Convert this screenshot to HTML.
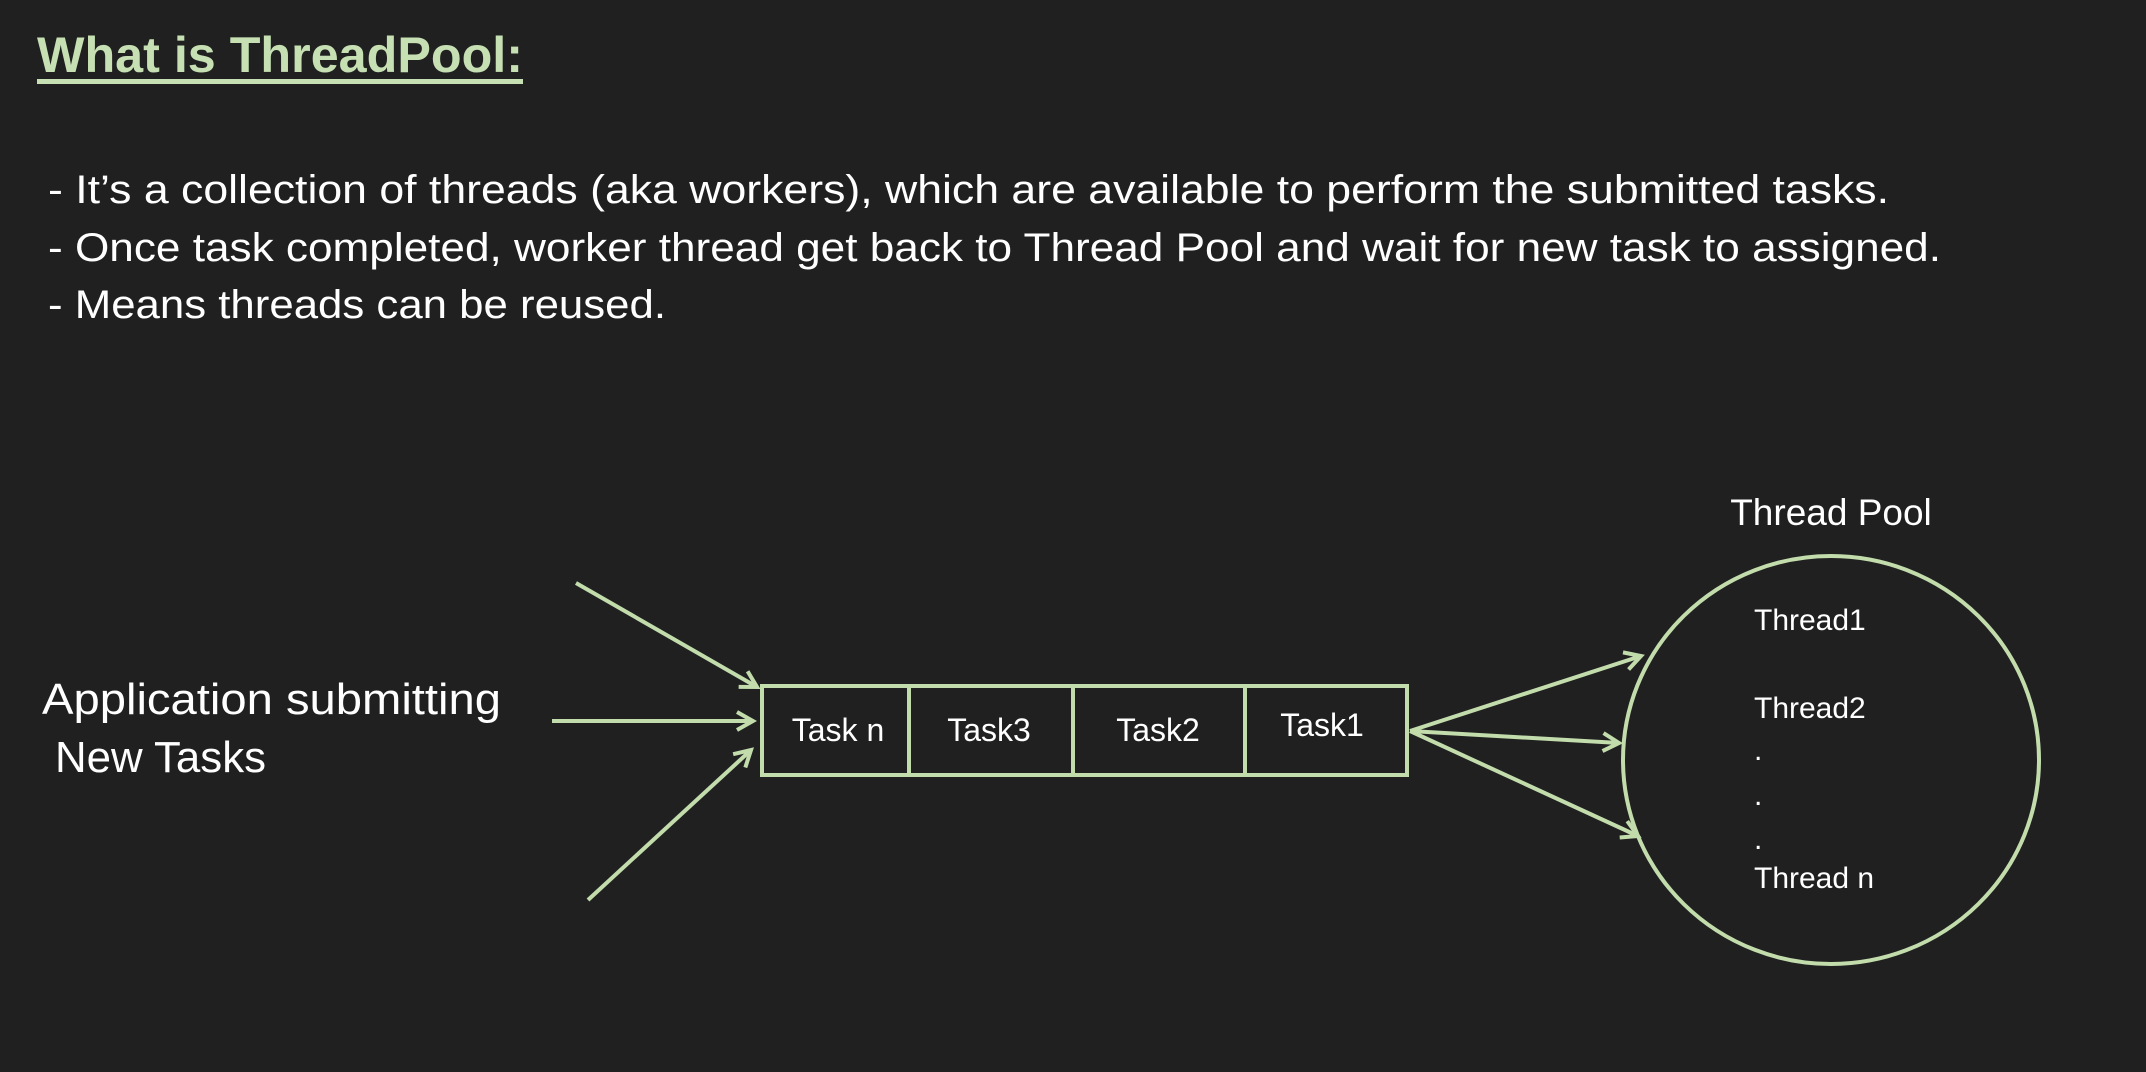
<!DOCTYPE html>
<html><head><meta charset="utf-8"><style>
html,body{margin:0;padding:0;background:#202020;}
svg{display:block}
text{font-family:"Liberation Sans",sans-serif;}
</style></head><body>
<svg width="2146" height="1072" viewBox="0 0 2146 1072" xmlns="http://www.w3.org/2000/svg">
<rect width="2146" height="1072" fill="#202020"/>
<defs>
<marker id="ah" markerWidth="12" markerHeight="12" refX="10" refY="6" orient="auto" markerUnits="userSpaceOnUse" viewBox="0 0 12 12">
<path d="M1,1 L10,6 L1,11" fill="none" stroke="#c2dcac" stroke-width="3"/>
</marker>
<marker id="ah2" markerWidth="24" markerHeight="24" refX="20" refY="12" orient="auto" markerUnits="userSpaceOnUse" viewBox="0 0 24 24">
<path d="M4,3 L20,12 L4,21" fill="none" stroke="#c2dcac" stroke-width="4"/>
</marker>
</defs>
<text x="37" y="72" font-size="50" font-weight="bold" fill="#c6e0b4" textLength="486" lengthAdjust="spacingAndGlyphs">What is ThreadPool:</text>
<rect x="37" y="79" width="486" height="5" fill="#c6e0b4"/>
<g fill="#ffffff" font-size="40">
<text x="48" y="203" textLength="1841" lengthAdjust="spacingAndGlyphs">- It’s a collection of threads (aka workers), which are available to perform the submitted tasks.</text>
<text x="48" y="261" textLength="1893" lengthAdjust="spacingAndGlyphs">- Once task completed, worker thread get back to Thread Pool and wait for new task to assigned.</text>
<text x="48" y="318" textLength="618" lengthAdjust="spacingAndGlyphs">- Means threads can be reused.</text>
</g>
<g fill="#ffffff" font-size="44">
<text x="42" y="714" textLength="459" lengthAdjust="spacingAndGlyphs">Application submitting</text>
<text x="55" y="772" textLength="211" lengthAdjust="spacingAndGlyphs">New Tasks</text>
</g>
<g stroke="#c2dcac" stroke-width="4" fill="none">
<rect x="762" y="686" width="645" height="89"/>
<line x1="909" y1="686" x2="909" y2="775"/>
<line x1="1073" y1="686" x2="1073" y2="775"/>
<line x1="1245" y1="686" x2="1245" y2="775"/>
<line x1="576" y1="583" x2="757" y2="687" marker-end="url(#ah2)"/>
<line x1="552" y1="721" x2="753" y2="721" marker-end="url(#ah2)"/>
<line x1="588" y1="900" x2="751" y2="750" marker-end="url(#ah2)"/>
<line x1="1410" y1="731" x2="1641" y2="656" marker-end="url(#ah2)"/>
<line x1="1410" y1="731" x2="1619" y2="743" marker-end="url(#ah2)"/>
<line x1="1410" y1="731" x2="1638" y2="836" marker-end="url(#ah2)"/>
<ellipse cx="1831" cy="760" rx="208" ry="204"/>
</g>
<g fill="#ffffff" font-size="32" text-anchor="middle">
<text x="838" y="741">Task n</text>
<text x="989" y="741">Task3</text>
<text x="1158" y="741">Task2</text>
<text x="1322" y="736">Task1</text>
</g>
<text x="1831" y="525" fill="#ffffff" font-size="37" text-anchor="middle">Thread Pool</text>
<g fill="#ffffff" font-size="30">
<text x="1754" y="630">Thread1</text>
<text x="1754" y="718">Thread2</text>
<text x="1754" y="760">.</text>
<text x="1754" y="805">.</text>
<text x="1754" y="849">.</text>
<text x="1754" y="888">Thread n</text>
</g>
</svg>
</body></html>
